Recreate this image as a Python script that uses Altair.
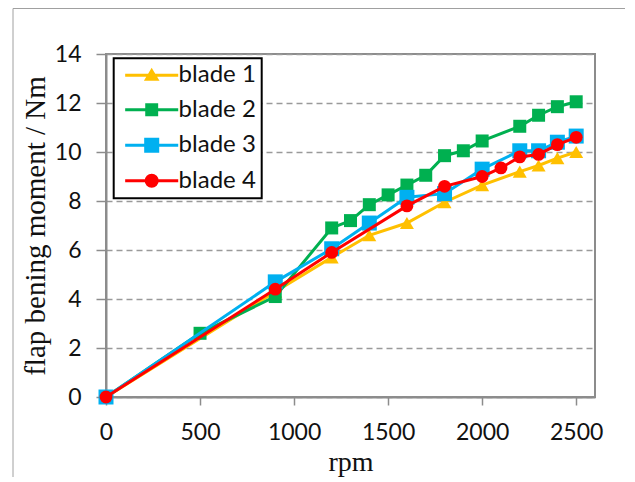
import altair as alt
import pandas as pd

blades = ["blade 1", "blade 2", "blade 3", "blade 4"]
colors = ["#FFC000", "#00B050", "#00B0F0", "#FF0000"]
shapes = ["triangle-up", "square", "square", "circle"]
marker_sizes = [196, 169, 225, 165]

rpm_1 = [0, 900, 1200, 1400, 1600, 1800, 2000, 2200, 2300, 2400, 2500]
moment_1 = [0, 4.3, 5.7, 6.6, 7.1, 7.95, 8.65, 9.2, 9.45, 9.75, 10.0]

rpm_2 = [0, 500, 900, 1200, 1300, 1400, 1500, 1600, 1700, 1800, 1900, 2000, 2200, 2300, 2400, 2500]
moment_2 = [0, 2.6, 4.1, 6.9, 7.2, 7.85, 8.25, 8.65, 9.05, 9.85, 10.05, 10.45, 11.05, 11.5, 11.85, 12.05]

rpm_3 = [0, 900, 1200, 1400, 1600, 1800, 2000, 2200, 2300, 2400, 2500]
moment_3 = [0, 4.7, 6.05, 7.1, 8.15, 8.3, 9.3, 10.05, 10.05, 10.4, 10.65]

rpm_4 = [0, 900, 1200, 1600, 1800, 2000, 2100, 2200, 2300, 2400, 2500]
moment_4 = [0, 4.4, 5.9, 7.8, 8.6, 9.0, 9.35, 9.8, 9.9, 10.3, 10.6]

x_ticks = [0, 500, 1000, 1500, 2000, 2500]
y_ticks = [0, 2, 4, 6, 8, 10, 12, 14]

# legend symbols: line segment + marker (unit-square coordinates)
legend_paths = [
    "M-3.79,0L3.79,0M0,-0.66L0.74,0.58L-0.74,0.58Z",
    "M-3.79,0L3.79,0M-0.71,-0.71L0.71,-0.71L0.71,0.71L-0.71,0.71Z",
    "M-3.79,0L3.79,0M-0.86,-0.86L0.86,-0.86L0.86,0.86L-0.86,0.86Z",
    "M-3.79,0L3.79,0M0.79,0A0.79,0.79 0 1,1 -0.79,0A0.79,0.79 0 1,1 0.79,0Z",
]

frames = []
for b, r, m in zip(blades, [rpm_1, rpm_2, rpm_3, rpm_4], [moment_1, moment_2, moment_3, moment_4]):
    frames.append(pd.DataFrame({"rpm": r, "moment": m, "blade": b}))
df = pd.concat(frames, ignore_index=True)

GRAY = "#8c8c8c"

x_enc = alt.X(
    "rpm:Q",
    scale=alt.Scale(domain=[0, 2600], nice=False),
    axis=alt.Axis(
        values=x_ticks, format="d", title="rpm", grid=False, labelFlush=False,
        domainColor=GRAY, domainWidth=2, tickColor=GRAY, tickWidth=1.5, tickSize=8,
        labelFont="Lato", labelFontSize=23, labelColor="#111", labelPadding=34,
        labelBaseline="alphabetic",
        titleFont="Liberation Serif", titleFontSize=28, titleFontWeight="normal", titleColor="#111",
        titleX=244.5, titleY=73, titleBaseline="alphabetic", titleAlign="center",
    ),
)
y_enc = alt.Y(
    "moment:Q",
    scale=alt.Scale(domain=[0, 14], nice=False),
    axis=alt.Axis(
        values=y_ticks, title="flap bening moment / Nm", grid=True,
        gridColor="#9a9a9a", gridDash=[6, 4], gridWidth=1.3,
        domainColor=GRAY, domainWidth=2, tickColor=GRAY, tickWidth=1.5, tickSize=10,
        labelFont="Lato", labelFontSize=23, labelColor="#111", labelPadding=15,
        titleFont="Liberation Serif", titleFontSize=29, titleFontWeight="normal", titleColor="#111",
        titleX=-62, titleY=171.5, titleAngle=270, titleBaseline="alphabetic", titleAlign="center",
    ),
)

base = alt.Chart(df)
layers = []
for b, c, shp, sz in zip(blades, colors, shapes, marker_sizes):
    sub = base.transform_filter(alt.datum.blade == b)
    layers.append(sub.mark_line(strokeWidth=3, color=c).encode(x=x_enc, y=y_enc))
    layers.append(
        sub.mark_point(shape=shp, size=sz, filled=True, opacity=1, color=c).encode(x=x_enc, y=y_enc)
    )

leg = alt.Legend(title=None, orient="none", legendX=7.7, legendY=4.3)
legend_layer = (
    base.transform_filter("datum.moment < -1000")
    .mark_point(filled=True)
    .encode(
        x=x_enc,
        y=y_enc,
        fill=alt.Fill("blade:N", scale=alt.Scale(domain=blades, range=colors), legend=leg),
        stroke=alt.Stroke("blade:N", scale=alt.Scale(domain=blades, range=colors), legend=leg),
        shape=alt.Shape("blade:N", scale=alt.Scale(domain=blades, range=legend_paths), legend=leg),
    )
)

frame_df = pd.DataFrame({"k": [0]})
frame_left = alt.Chart(frame_df).mark_rule(color="#a0a0a0", strokeWidth=1).encode(
    x=alt.value(-93), y=alt.value(-45.5), y2=alt.value(430)
)
frame_top = alt.Chart(frame_df).mark_rule(color="#a0a0a0", strokeWidth=1).encode(
    x=alt.value(-93), x2=alt.value(530), y=alt.value(-45.5)
)

chart = (
    alt.layer(frame_left, frame_top, *layers, legend_layer)
    .properties(
        width=489, height=343,
        autosize=alt.AutoSizeParams(type="none"),
        padding={"left": 98, "top": 46, "right": 30, "bottom": 80},
        background="white",
    )
    .configure_view(stroke=GRAY, strokeWidth=2)
    .configure_legend(
        padding=5,
        strokeColor="black", strokeWidth=2, fillColor="white",
        labelFont="Lato", labelFontSize=24, labelColor="#111",
        symbolSize=196, symbolStrokeWidth=3, symbolOffset=21, labelOffset=14.9,
        rowPadding=10.5, symbolOpacity=1,
    )
)

chart.save("out.html", embed_options={"renderer": "svg", "actions": False})
